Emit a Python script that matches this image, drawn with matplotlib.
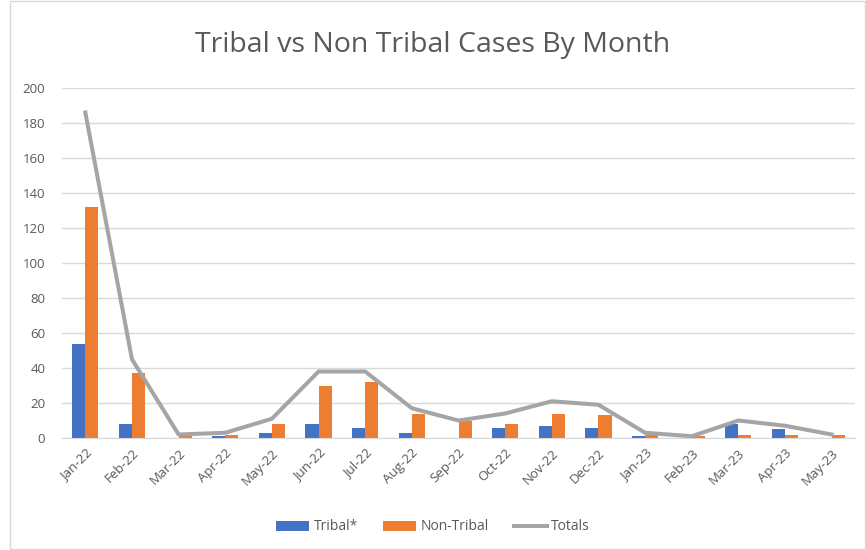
import numpy as np
import matplotlib.pyplot as plt
from matplotlib.patches import Rectangle

months = ['Jan-22', 'Feb-22', 'Mar-22', 'Apr-22', 'May-22', 'Jun-22', 'Jul-22',
          'Aug-22', 'Sep-22', 'Oct-22', 'Nov-22', 'Dec-22', 'Jan-23', 'Feb-23',
          'Mar-23', 'Apr-23', 'May-23']
tribal = [54, 8, 0, 1, 3, 8, 6, 3, 0, 6, 7, 6, 1, 0, 8, 5, 0]
non_tribal = [132, 37, 1, 2, 8, 30, 32, 14, 10, 8, 14, 13, 2, 1, 2, 2, 2]
totals = [186, 45, 2, 3, 11, 38, 38, 17, 10, 14, 21, 19, 3, 1, 10, 7, 2]

plt.rcParams['font.family'] = ['Open Sans', 'DejaVu Sans']

fig = plt.figure(figsize=(8.66, 5.5), dpi=100)
ax = fig.add_axes([62/866, 1 - 438/550, (855-62)/866, 350/550])

x = np.arange(len(months))
w = 0.28
b1 = ax.bar(x - w/2, tribal, w, color='#4472C4', label='Tribal*', zorder=2)
b2 = ax.bar(x + w/2, non_tribal, w, color='#ED7D31', label='Non-Tribal', zorder=2)
ln, = ax.plot(x, totals, color='#A5A5A5', linewidth=2.9, label='Totals', zorder=3,
              solid_joinstyle='round')

ax.set_xlim(-0.5, len(months) - 0.5)
ax.set_ylim(0, 200)
ax.set_yticks(range(0, 201, 20))
ax.set_xticks(x)
ax.set_xticklabels(months, rotation=45, ha='right', rotation_mode='anchor')
ax.yaxis.grid(True, color='#D9D9D9', linewidth=1, zorder=0)
for s in ['top', 'right', 'left']:
    ax.spines[s].set_visible(False)
ax.spines['bottom'].set_color('#D9D9D9')
ax.tick_params(axis='both', length=0, colors='#595959', labelsize=9.5)
ax.tick_params(axis='x', pad=6)
ax.tick_params(axis='y', pad=12)

fig.text(0.5, 1 - 45/550, 'Tribal vs Non Tribal Cases By Month', ha='center',
         va='center', fontsize=20.5, color='#595959')

fig.legend([b1, b2, ln], ['Tribal*', 'Non-Tribal', 'Totals'], loc='center',
           bbox_to_anchor=(0.5, 1 - 527/550), ncol=3, frameon=False,
           fontsize=10, labelcolor='#595959', handlelength=2.4, columnspacing=1.8,
           handletextpad=0.3)

fig.patches.append(Rectangle((10/866, 0.002), 1 - 11/866, 0.996, transform=fig.transFigure,
                             fill=False, edgecolor='#D9D9D9', linewidth=1))

fig.savefig('out.png', dpi=100)
